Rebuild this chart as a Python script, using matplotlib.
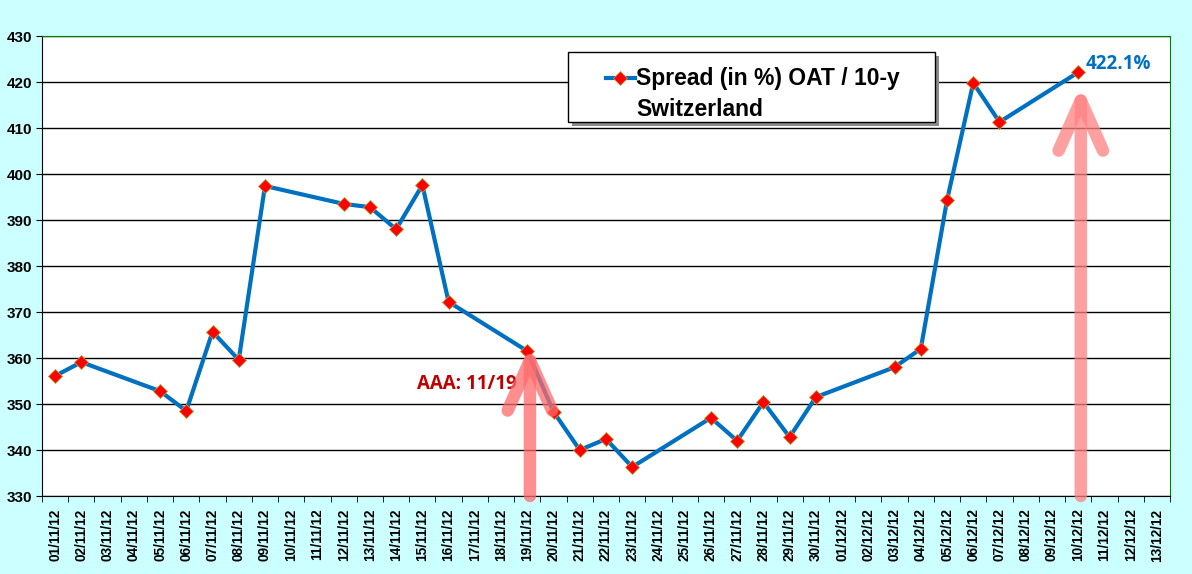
import numpy as np
import matplotlib
matplotlib.use("Agg")
from matplotlib import pyplot as plt
from matplotlib.lines import Line2D
from matplotlib.patches import Rectangle

# daily categories 01/11/12 .. 13/12/12
dates = [f"{d:02d}/11/12" for d in range(1, 31)] + [f"{d:02d}/12/12" for d in range(1, 14)]

# spread values, None where there is no quote (weekends / no data)
spread = [356.1, 359.1, None, None, 352.8, 348.5, 365.7, 359.6, 397.4, None,
          None, 393.5, 392.8, 388.0, 397.6, 372.2, None, None, 361.5, 348.3,
          340.0, 342.4, 336.3, None, None, 347.0, 342.0, 350.4, 342.8, 351.5,
          None, None, 358.0, 362.0, 394.3, 419.8, 411.3, None, None, 422.1,
          None, None, None]

series_lines = ["Spread (in %) OAT / 10-y", "Switzerland"]
last_label = "422.1%"
event_label = "AAA: 11/19"
event_idx = 18      # 19/11/12
last_idx = 39       # 10/12/12

plt.rcParams['font.family'] = ['Liberation Sans', 'DejaVu Sans']

W, H = 1192, 574
fig = plt.figure(figsize=(W / 100, H / 100), dpi=100, facecolor="#CCFFFF")
ax = fig.add_axes([42 / W, 1 - 496 / H, 1128 / W, 460 / H])
ax.set_facecolor("white")

xs = [i for i, v in enumerate(spread) if v is not None]
ys = [v for v in spread if v is not None]

line_kw = dict(color="#0070C0", lw=3, marker="D", ms=7,
               mfc="#FF0000", mec="#B0A040", mew=0.6)
ax.plot(xs, ys, zorder=4, solid_joinstyle="round", **line_kw)

ax.set_xlim(-0.5, len(dates) - 0.5)
ax.set_ylim(330, 430)
ax.set_yticks(np.arange(330, 431, 10))
ax.yaxis.grid(True, color="black", lw=1)
ax.set_axisbelow(True)

ax.set_xticks(range(len(dates)))
ax.set_xticklabels(dates, rotation=90, fontsize=9.8, fontweight="bold")
ax.set_xticks(np.arange(-0.5, len(dates), 1), minor=True)
ax.tick_params(axis="x", which="major", length=0, pad=9)
ax.tick_params(axis="x", which="minor", length=4, direction="out")
ax.tick_params(axis="y", length=4, direction="out", labelsize=11, pad=3)
for lab in ax.get_yticklabels():
    lab.set_fontweight("bold")

ax.spines["top"].set_color("#008000")
ax.spines["right"].set_color("#008000")
ax.spines["left"].set_color("black")
ax.spines["bottom"].set_color("black")

# pink arrows
arrow_kw = dict(arrowstyle="->,head_length=3.6,head_width=1.6", lw=9,
                capstyle="round", joinstyle="round", shrinkA=0, shrinkB=0)
ax.annotate("", xy=(event_idx + 0.1, 362.8), xytext=(event_idx + 0.1, 330),
            arrowprops=dict(color="#FF6A6A", alpha=0.75, **arrow_kw),
            zorder=5)
ax.annotate("", xy=(last_idx + 0.1, 419.3), xytext=(last_idx + 0.1, 330),
            arrowprops=dict(color="#FF8080", alpha=0.75, **arrow_kw),
            zorder=3)

ax.text(event_idx - 4.2, 354.3, event_label, color="#C00000", fontsize=13.5,
        fontweight="bold", family=["Open Sans", "DejaVu Sans"], va="center")
ax.text(last_idx + 0.3, 424.0, last_label, color="#0070C0", fontsize=13.5,
        fontweight="bold", family=["Open Sans", "DejaVu Sans"], va="center")

# legend box, drawn by hand so the marker sits on the first text line
bx0, bx1 = (568 - 42) / 1128, (935 - 42) / 1128
by0, by1 = (496 - 122) / 460, (496 - 52) / 460
ax.add_patch(Rectangle((bx0 + 4 / 1128, by0 - 4 / 460), bx1 - bx0, by1 - by0,
                       transform=ax.transAxes, facecolor="#8C8C8C",
                       edgecolor="none", zorder=6))
ax.add_patch(Rectangle((bx0, by0), bx1 - bx0, by1 - by0,
                       transform=ax.transAxes, facecolor="white",
                       edgecolor="black", lw=1, zorder=7))
ly1 = (496 - 78) / 460
ly2 = (496 - 110) / 460
ax.add_line(Line2D([(606 - 42) / 1128, (635 - 42) / 1128], [ly1, ly1],
                   transform=ax.transAxes, color="#0070C0", lw=3, zorder=8))
ax.add_line(Line2D([(620 - 42) / 1128], [ly1], transform=ax.transAxes,
                   ls="none", zorder=9, **{k: v for k, v in line_kw.items()
                                           if k not in ("color", "lw")}))
tx = (636 - 42) / 1128
ax.text(tx, ly1, series_lines[0], transform=ax.transAxes, fontsize=16.5,
        fontweight="bold", va="center", ha="left", zorder=9)
ax.text(tx, ly2, series_lines[1], transform=ax.transAxes, fontsize=16.5,
        fontweight="bold", va="center", ha="left", zorder=9)

fig.savefig("out.png", dpi=100, facecolor=fig.get_facecolor())
